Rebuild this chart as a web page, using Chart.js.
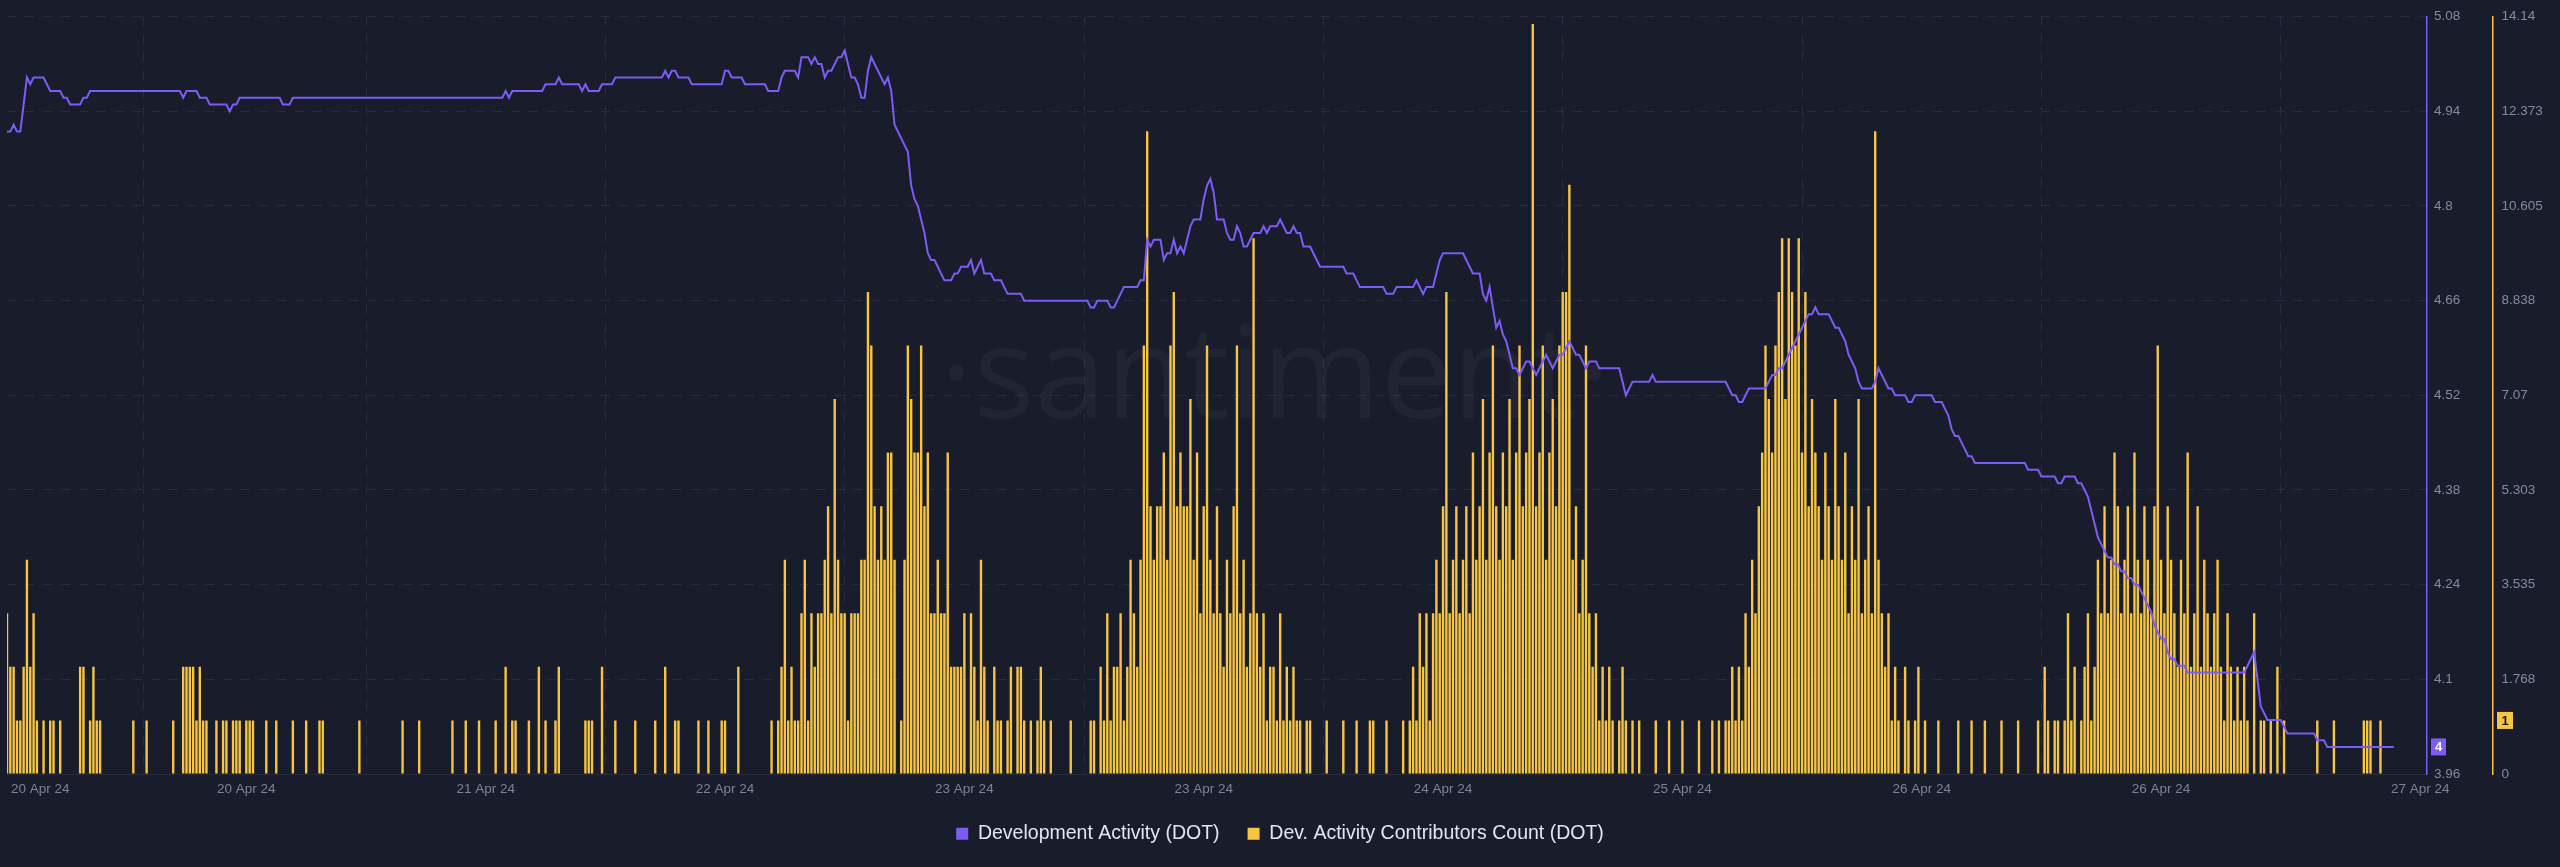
<!DOCTYPE html>
<html>
<head>
<meta charset="utf-8">
<script src="https://cdn.jsdelivr.net/npm/chart.js@4.4.1/dist/chart.umd.min.js"></script>
<style>
html,body{margin:0;padding:0;background:#191c2b;overflow:hidden}
#wrap{width:2560px;height:867px}
canvas{display:block}
</style>
</head>
<body>
<div id="wrap"><canvas id="c" width="2560" height="867"></canvas></div>
<script>
// ---- data (index = time step) ----
const xTickIdx = [10, 72, 144, 216, 288, 360, 432, 504, 576, 648, 726];
const xTickLabels = ['20 Apr 24', '20 Apr 24', '21 Apr 24', '22 Apr 24', '23 Apr 24', '23 Apr 24', '24 Apr 24', '25 Apr 24', '26 Apr 24', '26 Apr 24', '27 Apr 24'];
const gridIdx = [0, 72, 144, 216, 288, 360, 432, 504, 576, 648, 720];
const devTicks = [3.96, 4.1, 4.24, 4.38, 4.52, 4.66, 4.8, 4.94, 5.08];
const devTickLabels = ['3.96', '4.1', '4.24', '4.38', '4.52', '4.66', '4.8', '4.94', '5.08'];
const contribTicks = [0, 1.768, 3.535, 5.303, 7.07, 8.838, 10.605, 12.373, 14.14];
const contribTickLabels = ['0', '1.768', '3.535', '5.303', '7.07', '8.838', '10.605', '12.373', '14.14'];

const devActivity = [
4.91,4.91,4.92,4.91,4.91,4.95,4.99,4.98,4.99,4.99,
4.99,4.99,4.98,4.97,4.97,4.97,4.97,4.96,4.96,4.95,
4.95,4.95,4.95,4.96,4.96,4.97,4.97,4.97,4.97,4.97,
4.97,4.97,4.97,4.97,4.97,4.97,4.97,4.97,4.97,4.97,
4.97,4.97,4.97,4.97,4.97,4.97,4.97,4.97,4.97,4.97,
4.97,4.97,4.97,4.96,4.97,4.97,4.97,4.97,4.96,4.96,
4.96,4.95,4.95,4.95,4.95,4.95,4.95,4.94,4.95,4.95,
4.96,4.96,4.96,4.96,4.96,4.96,4.96,4.96,4.96,4.96,
4.96,4.96,4.96,4.95,4.95,4.95,4.96,4.96,4.96,4.96,
4.96,4.96,4.96,4.96,4.96,4.96,4.96,4.96,4.96,4.96,
4.96,4.96,4.96,4.96,4.96,4.96,4.96,4.96,4.96,4.96,
4.96,4.96,4.96,4.96,4.96,4.96,4.96,4.96,4.96,4.96,
4.96,4.96,4.96,4.96,4.96,4.96,4.96,4.96,4.96,4.96,
4.96,4.96,4.96,4.96,4.96,4.96,4.96,4.96,4.96,4.96,
4.96,4.96,4.96,4.96,4.96,4.96,4.96,4.96,4.96,4.96,
4.97,4.96,4.97,4.97,4.97,4.97,4.97,4.97,4.97,4.97,
4.97,4.97,4.98,4.98,4.98,4.98,4.99,4.98,4.98,4.98,
4.98,4.98,4.98,4.97,4.98,4.97,4.97,4.97,4.97,4.98,
4.98,4.98,4.98,4.99,4.99,4.99,4.99,4.99,4.99,4.99,
4.99,4.99,4.99,4.99,4.99,4.99,4.99,4.99,5.00,4.99,
5.00,5.00,4.99,4.99,4.99,4.99,4.98,4.98,4.98,4.98,
4.98,4.98,4.98,4.98,4.98,4.98,5.00,5.00,4.99,4.99,
4.99,4.99,4.98,4.98,4.98,4.98,4.98,4.98,4.98,4.97,
4.97,4.97,4.97,4.99,5.00,5.00,5.00,5.00,4.99,5.02,
5.02,5.02,5.01,5.02,5.01,5.01,4.99,5.00,5.00,5.01,
5.02,5.02,5.03,5.01,4.99,4.99,4.98,4.96,4.96,5.00,
5.02,5.01,5.00,4.99,4.98,4.99,4.97,4.92,4.91,4.90,
4.89,4.88,4.83,4.81,4.80,4.78,4.76,4.73,4.72,4.72,
4.71,4.70,4.69,4.69,4.69,4.70,4.70,4.71,4.71,4.71,
4.72,4.70,4.71,4.72,4.70,4.70,4.70,4.69,4.69,4.69,
4.68,4.67,4.67,4.67,4.67,4.67,4.66,4.66,4.66,4.66,
4.66,4.66,4.66,4.66,4.66,4.66,4.66,4.66,4.66,4.66,
4.66,4.66,4.66,4.66,4.66,4.66,4.65,4.65,4.66,4.66,
4.66,4.66,4.65,4.65,4.66,4.67,4.68,4.68,4.68,4.68,
4.68,4.69,4.69,4.75,4.74,4.75,4.75,4.75,4.72,4.73,
4.73,4.75,4.73,4.74,4.73,4.75,4.77,4.78,4.78,4.78,
4.81,4.83,4.84,4.82,4.78,4.78,4.78,4.76,4.75,4.75,
4.77,4.76,4.74,4.74,4.75,4.76,4.76,4.76,4.77,4.76,
4.77,4.77,4.77,4.78,4.77,4.76,4.76,4.77,4.76,4.76,
4.74,4.74,4.74,4.73,4.72,4.71,4.71,4.71,4.71,4.71,
4.71,4.71,4.71,4.70,4.70,4.70,4.69,4.68,4.68,4.68,
4.68,4.68,4.68,4.68,4.68,4.67,4.67,4.67,4.68,4.68,
4.68,4.68,4.68,4.68,4.69,4.68,4.67,4.68,4.68,4.68,
4.70,4.72,4.73,4.73,4.73,4.73,4.73,4.73,4.73,4.72,
4.71,4.70,4.70,4.70,4.67,4.66,4.68,4.65,4.62,4.63,
4.61,4.60,4.58,4.56,4.56,4.55,4.56,4.57,4.57,4.56,
4.55,4.56,4.57,4.58,4.57,4.56,4.57,4.58,4.58,4.59,
4.60,4.59,4.58,4.58,4.57,4.56,4.57,4.57,4.57,4.56,
4.56,4.56,4.56,4.56,4.56,4.56,4.54,4.52,4.53,4.54,
4.54,4.54,4.54,4.54,4.54,4.55,4.54,4.54,4.54,4.54,
4.54,4.54,4.54,4.54,4.54,4.54,4.54,4.54,4.54,4.54,
4.54,4.54,4.54,4.54,4.54,4.54,4.54,4.54,4.53,4.52,
4.52,4.51,4.51,4.52,4.53,4.53,4.53,4.53,4.53,4.53,
4.54,4.55,4.55,4.56,4.56,4.57,4.58,4.59,4.60,4.61,
4.62,4.63,4.64,4.64,4.65,4.64,4.64,4.64,4.64,4.63,
4.62,4.62,4.61,4.60,4.58,4.57,4.56,4.54,4.53,4.53,
4.53,4.53,4.54,4.56,4.55,4.54,4.53,4.53,4.52,4.52,
4.52,4.52,4.51,4.51,4.52,4.52,4.52,4.52,4.52,4.52,
4.51,4.51,4.51,4.50,4.49,4.47,4.46,4.46,4.45,4.44,
4.43,4.43,4.42,4.42,4.42,4.42,4.42,4.42,4.42,4.42,
4.42,4.42,4.42,4.42,4.42,4.42,4.42,4.42,4.41,4.41,
4.41,4.41,4.40,4.40,4.40,4.40,4.40,4.39,4.39,4.40,
4.40,4.40,4.40,4.39,4.39,4.38,4.37,4.35,4.33,4.31,
4.30,4.29,4.28,4.28,4.27,4.27,4.26,4.26,4.25,4.25,
4.24,4.24,4.23,4.22,4.21,4.20,4.18,4.17,4.16,4.16,
4.14,4.13,4.13,4.12,4.12,4.12,4.11,4.11,4.11,4.11,
4.11,4.11,4.11,4.11,4.11,4.11,4.11,4.11,4.11,4.11,
4.11,4.11,4.11,4.11,4.12,4.13,4.14,4.10,4.06,4.05,
4.04,4.04,4.04,4.04,4.04,4.03,4.02,4.02,4.02,4.02,
4.02,4.02,4.02,4.02,4.02,4.01,4.01,4.01,4.00,4.00,
4.00,4.00,4.00,4.00,4.00,4.00,4.00,4.00,4.00,4.00,
4.00,4.00,4.00,4.00,4.00,4.00,4.00,4.00,4.00
];

const contributors = [
3,2,2,1,1,2,4,2,3,1,
0,1,0,1,1,0,1,0,0,0,
0,0,2,2,0,1,2,1,1,0,
0,0,0,0,0,0,0,0,1,0,
0,0,1,0,0,0,0,0,0,0,
1,0,0,2,2,2,2,1,2,1,
1,0,0,1,0,1,1,0,1,1,
1,0,1,1,1,0,0,0,1,0,
0,1,0,0,0,0,1,0,0,0,
1,0,0,0,1,1,0,0,0,0,
0,0,0,0,0,0,1,0,0,0,
0,0,0,0,0,0,0,0,0,1,
0,0,0,0,1,0,0,0,0,0,
0,0,0,0,1,0,0,0,1,0,
0,0,1,0,0,0,0,1,0,0,
2,0,1,1,0,0,0,1,0,0,
2,0,1,0,0,1,2,0,0,0,
0,0,0,0,1,1,1,0,0,2,
0,0,0,1,0,0,0,0,0,1,
0,0,0,0,0,1,0,0,2,0,
0,1,1,0,0,0,0,0,1,0,
0,1,0,0,0,1,1,0,0,0,
2,0,0,0,0,0,0,0,0,0,
1,0,1,2,4,1,2,1,1,3,
4,1,3,2,3,3,4,5,3,7,
4,3,3,1,3,3,3,4,4,9,
8,5,4,5,4,6,6,4,0,1,
4,8,7,6,6,8,5,6,3,3,
4,3,3,6,2,2,2,2,3,0,
3,2,1,4,2,1,0,2,1,1,
0,1,2,0,2,2,1,0,1,0,
1,2,1,0,1,0,0,0,0,0,
1,0,0,0,0,0,1,1,0,2,
1,3,1,2,2,3,1,2,4,3,
2,4,8,12,5,4,5,5,6,4,
8,9,5,6,5,5,7,4,6,3,
5,8,4,3,5,3,2,4,3,5,
8,3,4,2,3,10,3,2,3,1,
2,2,1,3,1,2,1,2,1,1,
0,1,1,0,0,0,0,1,0,0,
0,0,1,0,0,0,1,0,0,0,
1,1,0,0,0,1,0,0,0,0,
1,0,1,2,1,3,2,3,1,3,
4,3,5,9,3,4,5,3,4,5,
3,6,4,5,7,4,6,8,5,4,
6,5,7,4,6,8,5,6,7,14,
5,6,8,4,6,7,5,8,9,9,
11,4,5,3,4,8,3,2,3,1,
2,1,2,1,0,1,2,1,0,1,
0,1,0,0,0,0,1,0,0,0,
1,0,0,0,1,0,0,0,0,1,
0,0,0,1,0,1,0,1,1,2,
1,2,1,3,2,4,3,5,6,8,
7,6,8,9,10,7,10,9,8,10,
6,9,5,7,6,5,4,6,5,4,
7,5,4,6,3,5,4,7,3,4,
5,3,12,4,3,2,3,1,2,1,
0,2,1,0,1,2,0,1,0,0,
0,1,0,0,0,0,0,1,0,0,
0,1,0,0,0,1,0,0,0,0,
1,0,0,0,0,1,0,0,0,0,
0,1,0,2,1,0,1,1,0,1,
3,1,2,0,1,2,3,1,2,4,
3,5,3,4,6,5,3,4,5,3,
6,4,3,5,4,3,5,8,4,3,
5,4,3,2,4,3,6,2,3,5,
2,4,3,2,3,4,2,1,3,2,
1,2,1,2,1,0,3,0,1,1,
0,1,0,2,0,1,0,0,0,0,
0,0,0,0,0,1,0,0,0,0,
1,0,0,0,0,0,0,0,0,1,
1,1,0,0,1
];

const X_MAX = 728;
const PURPLE = '#7b5cf6';
const YELLOW = '#f7c543';
const GRID = '#282c3f';
const TICK = '#858aa0';

Chart.defaults.font.family = '"Liberation Sans", Arial, Helvetica, sans-serif';

const lineData = devActivity.map((v, i) => ({x: i, y: v}));
const barData = contributors.map((v, i) => ({x: i, y: v}));

const watermark = {
  id: 'watermark',
  beforeDatasetsDraw(chart) {
    const ctx = chart.ctx;
    ctx.save();
    ctx.font = '400 128px "Open Sans", sans-serif';
    ctx.fillStyle = 'rgba(255,255,255,0.035)';
    ctx.textAlign = 'center';
    ctx.textBaseline = 'alphabetic';
    ctx.fillText('·santiment·', 1275, 418);
    ctx.restore();
  }
};

const badges = {
  id: 'badges',
  afterDraw(chart) {
    const ctx = chart.ctx;
    const yd = chart.scales.yDev, yc = chart.scales.yCon;
    const lastDev = devActivity[devActivity.length - 1];
    const lastCon = contributors[contributors.length - 1];
    const draw = (x, y, w, bg, fg, txt) => {
      ctx.save();
      ctx.fillStyle = bg;
      ctx.fillRect(x, y - 8.5, w, 17);
      ctx.fillStyle = fg;
      ctx.font = 'bold 13px "Liberation Sans", Arial, sans-serif';
      ctx.textAlign = 'center';
      ctx.textBaseline = 'middle';
      ctx.fillText(txt, x + w / 2, y + 0.5);
      ctx.restore();
    };
    draw(yd.left + 4, yd.getPixelForValue(lastDev), 15, PURPLE, '#ffffff', String(Math.round(lastDev)));
    draw(yc.left + 4, yc.getPixelForValue(lastCon), 16, YELLOW, '#1b1b1b', String(lastCon));
  }
};

new Chart(document.getElementById('c'), {
  type: 'bar',
  data: {
    datasets: [
      {
        type: 'line',
        label: 'Development Activity (DOT)',
        data: lineData,
        yAxisID: 'yDev',
        borderColor: PURPLE,
        backgroundColor: PURPLE,
        borderWidth: 2,
        pointRadius: 0,
        tension: 0,
        order: 0
      },
      {
        type: 'bar',
        label: 'Dev. Activity Contributors Count (DOT)',
        data: barData,
        yAxisID: 'yCon',
        backgroundColor: YELLOW,
        borderWidth: 0,
        barPercentage: 0.72,
        categoryPercentage: 1,
        order: 1
      }
    ]
  },
  options: {
    responsive: false,
    animation: false,
    devicePixelRatio: 1,
    layout: {padding: {top: -3, left: 0, right: 0, bottom: 13.5}},
    plugins: {
      tooltip: {enabled: false},
      legend: {
        position: 'bottom',
        labels: {
          color: '#e4e6ef',
          font: {size: 19.5},
          boxWidth: 12,
          boxHeight: 12,
          padding: 28,
          generateLabels(chart) {
            return chart.data.datasets.map((d, i) => ({
              text: d.label,
              fillStyle: i === 0 ? PURPLE : YELLOW,
              strokeStyle: i === 0 ? PURPLE : YELLOW,
              lineWidth: 0,
              hidden: false,
              datasetIndex: i,
              fontColor: '#e4e6ef'
            }));
          }
        }
      }
    },
    scales: {
      x: {
        type: 'linear',
        min: 0,
        max: X_MAX,
        offset: false,
        afterBuildTicks(s) {
          const vals = Array.from(new Set(gridIdx.concat(xTickIdx))).sort((a, b) => a - b);
          s.ticks = vals.map(v => ({value: v}));
        },
        afterFit(s) { s.height = 22; },
        grid: {
          color: c => (c.tick && gridIdx.includes(c.tick.value)) ? GRID : 'rgba(0,0,0,0)',
          drawTicks: false,
          lineWidth: 1
        },
        border: {display: true, color: '#262a3b', dash: [9, 9]},
        ticks: {
          autoSkip: false,
          maxRotation: 0,
          color: '#7d8298',
          font: {size: 13.5},
          padding: 7,
          callback: v => {
            const k = xTickIdx.indexOf(v);
            return k >= 0 ? xTickLabels[k] : '';
          }
        }
      },
      yDev: {
        type: 'linear',
        position: 'right',
        weight: 0,
        min: 3.96,
        max: 5.08,
        afterBuildTicks(s) { s.ticks = devTicks.map(v => ({value: v})); },
        afterFit(s) { s.width = 66; },
        grid: {color: GRID, drawTicks: false, lineWidth: 1},
        border: {display: true, color: PURPLE, width: 1.5, dash: [9, 9]},
        ticks: {
          color: TICK,
          font: {size: 13.5},
          padding: 7,
          callback: (v, i) => devTickLabels[i]
        }
      },
      yCon: {
        type: 'linear',
        position: 'right',
        weight: 1,
        min: 0,
        max: 14.14,
        afterBuildTicks(s) { s.ticks = contribTicks.map(v => ({value: v})); },
        afterFit(s) { s.width = 67; },
        grid: {drawOnChartArea: false, drawTicks: false},
        border: {display: true, color: YELLOW, width: 1.5},
        ticks: {
          color: TICK,
          font: {size: 13.5},
          padding: 8.5,
          callback: (v, i) => contribTickLabels[i]
        }
      }
    }
  },
  plugins: [watermark, badges]
});
</script>
</body>
</html>
